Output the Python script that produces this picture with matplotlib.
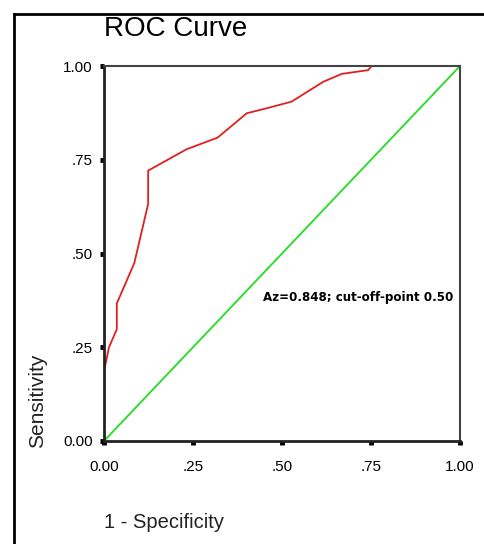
import numpy as np
import matplotlib.pyplot as plt
from matplotlib.lines import Line2D

plt.rcParams['font.family'] = ['Liberation Sans', 'DejaVu Sans']

# ROC curve points
fpr = [0.0, 0.0, 0.014, 0.036, 0.036, 0.085, 0.124, 0.124, 0.232, 0.319, 0.401, 0.46, 0.527, 0.616, 0.668, 0.742, 0.752, 1.0]
tpr = [0.0, 0.185, 0.25, 0.298, 0.367, 0.474, 0.632, 0.721, 0.778, 0.809, 0.874, 0.888, 0.905, 0.958, 0.979, 0.989, 1.0, 1.0]
ref_line = [0.0, 1.0]
ticks = [0.0, 0.25, 0.5, 0.75, 1.0]
tick_labels = ['0.00', '.25', '.50', '.75', '1.00']
note = 'Az=0.848; cut-off-point 0.50'

fig = plt.figure(figsize=(4.84, 5.44), dpi=100)
ax = fig.add_axes([104/484, 1-441/544, 356/484, 375/544])

ax.plot(ref_line, ref_line, color='#22dd22', lw=1.3)
ax.plot(fpr, tpr, color='#e02020', lw=1.3)

ax.set_xlim(0, 1)
ax.set_ylim(0, 1)
ax.set_xticks(ticks)
ax.set_xticklabels(tick_labels)
ax.set_yticks(ticks)
ax.set_yticklabels(tick_labels)
ax.tick_params(direction='out', length=3, width=3.5, labelsize=11, colors='black')
ax.tick_params(axis='x', pad=11)
ax.tick_params(axis='y', pad=5)

for s in ['left', 'bottom']:
    ax.spines[s].set_color('#222222')
    ax.spines[s].set_linewidth(2)
for s in ['top', 'right']:
    ax.spines[s].set_color('#444444')
    ax.spines[s].set_linewidth(1.5)

ax.text(0.447, 0.384, note, fontsize=8.6, fontweight='bold', va='center', ha='left',
        family=['DejaVu Sans'])

fig.text(104/484, 1-29/544, 'ROC Curve', fontsize=20, va='center', ha='left')
fig.text(104/484, 1-522/544, '1 - Specificity', fontsize=14.5, va='center', ha='left', color='#222222')
fig.text(38/484, 1-448/544, 'Sensitivity', fontsize=15, rotation=90, va='bottom', ha='center', color='#222222')

# outer frame (left and top edges only)
fig.add_artist(Line2D([14/484, 14/484], [0, 1-14/544], color='black', lw=2, transform=fig.transFigure))
fig.add_artist(Line2D([14/484, 1], [1-14/544, 1-14/544], color='black', lw=2, transform=fig.transFigure))

fig.savefig('out.png', dpi=100)
